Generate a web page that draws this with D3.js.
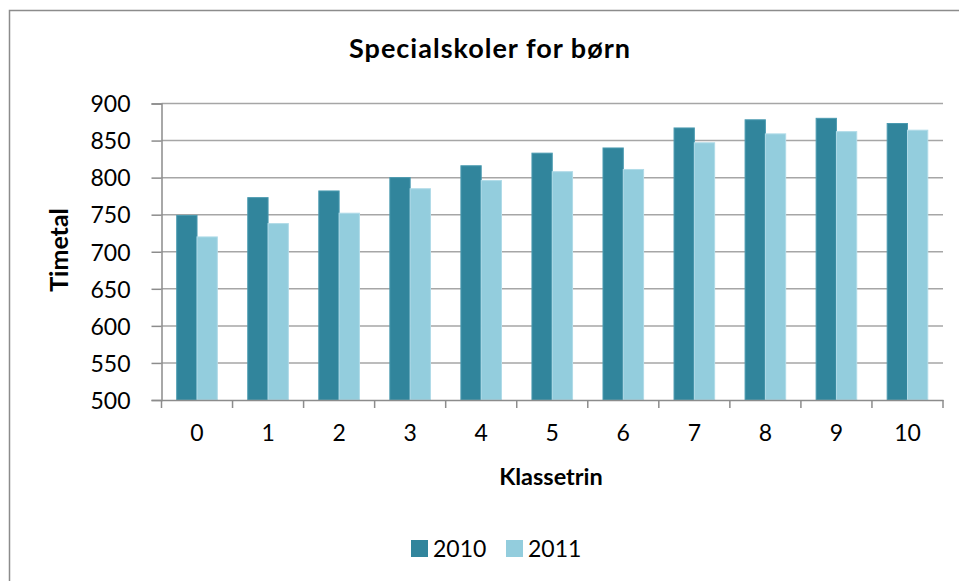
<!DOCTYPE html>
<html>
<head>
<meta charset="utf-8">
<script src="https://cdn.jsdelivr.net/npm/d3@7"></script>
<style>
  body { margin: 0; background: #fff; }
  text { font-family: Lato, "Open Sans", sans-serif; fill: #000; }
</style>
</head>
<body>
<div id="chart"></div>
<script>
var categories = ["0", "1", "2", "3", "4", "5", "6", "7", "8", "9", "10"];
var series = ["2010", "2011"];
var values2010 = [749, 773, 782, 800, 816, 833, 840, 867, 878, 880, 873];
var values2011 = [720, 738, 752, 785, 796, 808, 811, 847, 859, 862, 864];
var yTicks = [500, 550, 600, 650, 700, 750, 800, 850, 900];
var colors = ["#31859c", "#93cddd"];

var w = 959, h = 581;
var plotLeft = 161.5, plotRight = 943, plotTop = 103.5, plotBottom = 400;

var svg = d3.select("#chart").append("svg")
    .attr("width", w)
    .attr("height", h);

// chart frame
svg.append("rect").attr("x", 9.5).attr("y", 10.5).attr("width", w + 10).attr("height", h + 10)
    .attr("fill", "#fff").attr("stroke", "#8c8c8c").attr("stroke-width", 1.5);

var x = d3.scaleBand().domain(categories).range([plotLeft, plotRight]);
var x1 = d3.scaleBand().domain(series).range([0, x.bandwidth()]).paddingOuter(0.75);
var y = d3.scaleLinear().domain([500, 900]).range([plotBottom, plotTop]);

// gridlines
svg.append("g").selectAll("line").data(yTicks.slice(1)).join("line")
    .attr("x1", plotLeft).attr("x2", plotRight)
    .attr("y1", d => y(d)).attr("y2", d => y(d))
    .attr("stroke", "#a6a6a6").attr("stroke-width", 1.5);

// bars
var data = categories.map((c, i) => ({cat: c, vals: [values2010[i], values2011[i]]}));
var groups = svg.append("g").selectAll("g").data(data).join("g")
    .attr("transform", d => "translate(" + x(d.cat) + ",0)");
groups.selectAll("rect").data(d => d.vals.map((v, j) => ({s: series[j], v: v, j: j}))).join("rect")
    .attr("x", d => x1(d.s))
    .attr("width", x1.bandwidth())
    .attr("y", d => y(d.v))
    .attr("height", d => y(500) - y(d.v))
    .attr("fill", d => colors[d.j])
    .attr("stroke", d => d.j == 0 ? "#4a9ab0" : "#b0dbe8")
    .attr("stroke-width", 1);

// y axis
var yAxis = svg.append("g").attr("transform", "translate(" + plotLeft + ",0)")
    .call(d3.axisLeft(y).tickValues(yTicks).tickSize(10).tickPadding(21));
yAxis.select(".domain").attr("stroke", "#8c8c8c").attr("stroke-width", 1.5);
yAxis.selectAll(".tick line").attr("stroke", "#8c8c8c").attr("stroke-width", 1.5);
yAxis.selectAll("text").attr("font-size", 23).attr("font-family", "Lato, sans-serif").attr("dy", "0.36em");

// x axis
var xAxis = svg.append("g").attr("transform", "translate(0," + plotBottom + ")")
    .call(d3.axisBottom(x).tickSize(0).tickPadding(25));
xAxis.select(".domain").attr("stroke", "#8c8c8c").attr("stroke-width", 1.5);
xAxis.selectAll("text").attr("font-size", 23).attr("font-family", "Lato, sans-serif");
svg.append("g").selectAll("line").data(categories.concat(["end"])).join("line")
    .attr("x1", d => d == "end" ? plotRight : x(d)).attr("x2", d => d == "end" ? plotRight : x(d))
    .attr("y1", plotBottom).attr("y2", plotBottom + 8)
    .attr("stroke", "#8c8c8c").attr("stroke-width", 1.5);

// title
svg.append("text").text("Specialskoler for børn")
    .attr("x", 490).attr("y", 58).attr("text-anchor", "middle")
    .attr("font-size", 27).attr("font-weight", "bold").attr("letter-spacing", 1);

// axis titles
svg.append("text").text("Timetal")
    .attr("transform", "translate(68,250) rotate(-90)").attr("text-anchor", "middle")
    .attr("font-size", 25).attr("font-weight", "bold");
svg.append("text").text("Klassetrin")
    .attr("x", 551).attr("y", 485).attr("text-anchor", "middle")
    .attr("font-size", 23.5).attr("font-weight", "bold");

// legend
var legendX = [411, 506];
series.forEach(function (s, i) {
    svg.append("rect").attr("x", legendX[i]).attr("y", 540).attr("width", 17).attr("height", 17)
        .attr("fill", colors[i]);
    svg.append("text").text(s).attr("x", legendX[i] + 22).attr("y", 557)
        .attr("font-size", 23);
});
</script>
</body>
</html>
